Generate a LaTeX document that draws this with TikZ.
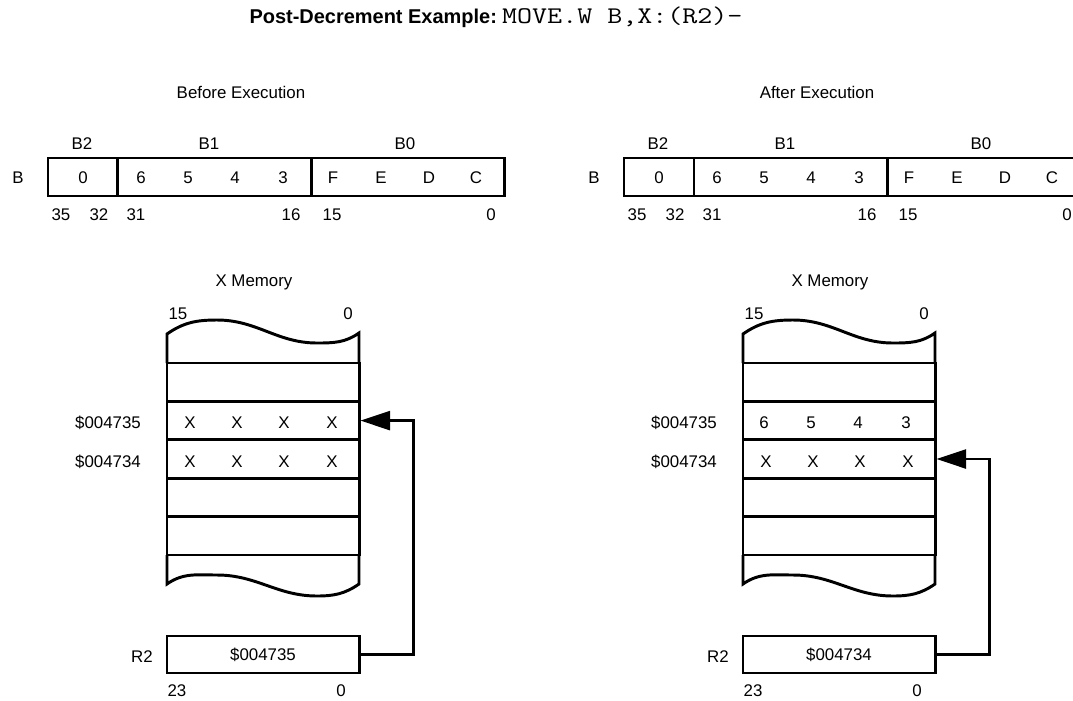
\documentclass[tikz,border=0pt]{standalone}
\usepackage{fontspec}
\setmainfont{Liberation Sans}
\newfontfamily\courfont{Latin Modern Mono}[FakeStretch=1.22]
\usetikzlibrary{arrows.meta}

\begin{document}
\begin{tikzpicture}[
  x=0.025cm, y=0.025cm,
  every node/.append style={inner sep=0pt},
  lbl/.style={font=\fontsize{12}{14}\selectfont, text height=8.6pt, text depth=0pt},
  field/.style={draw, line width=2.1pt, minimum height=0.95cm},
  regbox/.style={draw, line width=2.1pt, minimum width=4.8cm, minimum height=0.925cm},
  memrow/.style={draw, line width=2.1pt, minimum width=4.8cm, minimum height=0.96cm},
  wall/.style={line width=2.1pt},
  ptr/.style={-{Triangle[length=21pt,width=13.5pt]}, line width=1.8pt},
]
\useasboundingbox (0,0) rectangle (1073,-700);
% heading
\node[anchor=base] (title) at (496,-23)
  {{\fontsize{14.2}{16}\selectfont\bfseries Post-Decrement Example:} {\fontsize{17}{20}\selectfont\courfont MOVE.W B,X:(R2)-}};
% the two states, side by side
\foreach \p/\dx/\when/\addr/\hit in {L/0/Before/004735/2, R/576/After/004734/3} {
  \begin{scope}[shift={(\dx,0)}]
    \node[lbl] (when\p) at (241,-92) {\when\ Execution};
    % accumulator B
    \node[lbl] (bname\p) at (18,-177) {B};
    \node[lbl] (b2name\p) at (82,-143) {B2};
    \node[lbl] (b1name\p) at (209,-143) {B1};
    \node[lbl] (b0name\p) at (405,-143) {B0};
    \node[field, minimum width=1.75cm] (b2\p) at (83,-177) {};
    \node[field, minimum width=4.825cm] (b1\p) at (214.5,-177) {};
    \node[field, minimum width=4.825cm] (b0\p) at (407.5,-177) {};
    \foreach \x/\d in {83/0, 141/6, 188/5, 235/4, 283/3, 333/F, 381/E, 429/D, 476/C}
      \node[lbl] (d\p\x) at (\x,-177) {\d};
    \foreach \x/\n in {61/35, 99/32, 136/31, 291/16, 332/15, 491/0}
      \node[lbl] (n\p\x) at (\x,-214) {\n};
    % X memory
    \node[lbl] (xmem\p) at (254,-280) {X Memory};
    \node[lbl] (msb\p) at (178,-313) {15};
    \node[lbl] (lsb\p) at (348,-313) {0};
    \foreach \k in {1,...,5}
      \node[memrow] (mem\p\k) at (263,{-363-38.4*(\k-0.5)}) {};
    \draw[wall] (167,-363) -- (167,-334) to[out=35,in=180] (217,-320)
      to[out=0,in=180] (317,-343) to[out=0,in=215] (359,-333) -- (359,-363);
    \draw[wall] (167,-555) -- (167,-584) to[out=35,in=180] (217,-575)
      to[out=0,in=180] (317,-596) to[out=0,in=215] (359,-584) -- (359,-555);
    \node[lbl] (hi\p) at (108,-422) {\$004735};
    \node[lbl] (lo\p) at (108,-461) {\$004734};
    % address register R2
    \node[lbl] (r2name\p) at (142,-656) {R2};
    \node[regbox, lbl] (r2\p) at (263,-654.5) {\$\addr\hspace{0.4cm}};
    \node[lbl] (r2msb\p) at (177,-690) {23};
    \node[lbl] (r2lsb\p) at (341,-690) {0};
    \draw[ptr] (r2\p.east) -- ++(53,0) |- (mem\p\hit.east);
  \end{scope}
}
% contents of the two words
\foreach \x/\d in {190/6, 237/5, 284/4, 332/3} {
  \node[lbl] (xa\x) at (\x,-422) {X};
  \node[lbl] (xb\x) at (\x,-461) {X};
  \node[lbl] (ya\x) at ({\x+574},-422) {\d};
  \node[lbl] (yb\x) at ({\x+576},-461) {X};
}
\end{tikzpicture}
\end{document}
